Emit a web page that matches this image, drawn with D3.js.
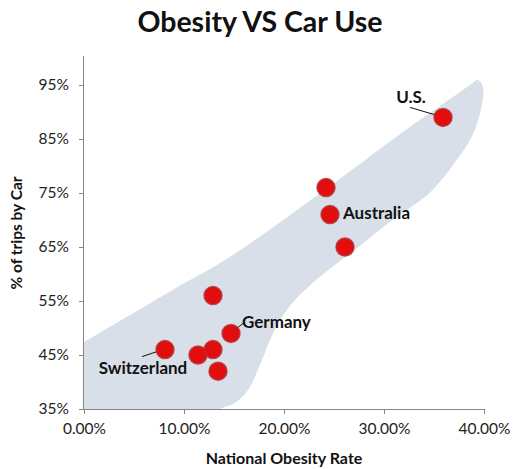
<!DOCTYPE html>
<html>
<head>
<meta charset="utf-8">
<script src="https://cdn.jsdelivr.net/npm/d3@7"></script>
<style>
  body { margin: 0; background: #fff; }
  text { font-family: Lato, "Open Sans", sans-serif; }
</style>
</head>
<body>
<svg id="chart" width="520" height="469"></svg>
<script>
// Data
const countries = ["U.S.", "", "Australia", "", "", "Germany", "Switzerland", "", "", ""];
const obesity   = [35.9, 24.2, 24.6, 26.1, 12.9, 14.7, 8.1, 11.4, 12.9, 13.4];
const carTrips  = [89.0, 76.0, 71.0, 65.0, 56.0, 49.0, 46.0, 45.0, 46.0, 42.0];
const xTicks = [0, 10, 20, 30, 40];
const yTicks = [35, 45, 55, 65, 75, 85, 95];
// decorative background band outline (x %, y %)
const bandX = [-4, 0, 8.9, 14.6, 24.3, 31.6, 36.6, 38.6, 39.4, 39.9, 39.8, 38.9, 37.1, 34.6, 30.9, 27.1, 23.6, 21.1, 19.6, 18.6, 17.6, 16.4, 15.1, 13.6, 11.0, 5, -4];
const bandY = [43.0, 47.4, 57.1, 63.2, 75.9, 85.9, 92.4, 95.0, 95.9, 94.6, 91.5, 85.9, 80.7, 75.1, 70.1, 64.5, 59.5, 55.2, 51.5, 47.8, 43.2, 38.5, 36.1, 35.0, 31.5, 29, 29];

const labelOffsets = { "U.S.": [-32, -21], "Australia": [13, -2], "Germany": [11, -12], "Switzerland": [-22, 18] };

const svg = d3.select("#chart");
const x = d3.scaleLinear().domain([0, 40]).range([84, 484]);
const y = d3.scaleLinear().domain([35, 100]).range([409, 58]);

// title
svg.append("text").attr("x", 260).attr("y", 32).attr("text-anchor", "middle")
  .attr("font-size", 28.5).attr("font-weight", "bold").attr("fill", "#111").text("Obesity VS Car Use");

// clip
svg.append("clipPath").attr("id", "plotclip").append("rect")
  .attr("x", x(0)).attr("y", y(100)).attr("width", x(40) - x(0) + 20).attr("height", y(35) - y(100));

const band = bandX.map((d, i) => [d, bandY[i]]);
svg.append("path").attr("clip-path", "url(#plotclip)")
  .attr("d", d3.line().x(d => x(d[0])).y(d => y(d[1])).curve(d3.curveCatmullRomClosed.alpha(0.5))(band))
  .attr("fill", "#d8dfe8");

// axes
const xAxis = svg.append("g").attr("transform", `translate(0,${y(35)})`)
  .call(d3.axisBottom(x).tickValues(xTicks).tickSize(5).tickPadding(9).tickFormat(d => d.toFixed(2) + "%"));
const yAxis = svg.append("g").attr("transform", `translate(${x(0)},0)`)
  .call(d3.axisLeft(y).tickValues(yTicks).tickSize(5).tickPadding(10).tickFormat(d => d + "%"));
[xAxis, yAxis].forEach(a => {
  a.select(".domain").attr("stroke", "#868686");
  a.selectAll(".tick line").attr("stroke", "#868686");
  a.selectAll(".tick text").attr("font-size", 15.5).attr("fill", "#222").attr("font-family", "Lato, sans-serif");
});
yAxis.select(".domain").attr("d", `M-0.5,${y(35)}V${y(100) - 2}`);
xAxis.select(".domain").attr("d", `M${x(0)},0.5H${x(40)}`);

// axis titles
svg.append("text").attr("x", 284).attr("y", 464).attr("text-anchor", "middle")
  .attr("font-size", 16).attr("font-weight", "bold").attr("fill", "#111").text("National Obesity Rate");
svg.append("text").attr("transform", "translate(22,233) rotate(-90)").attr("text-anchor", "middle")
  .attr("font-size", 15.5).attr("font-weight", "bold").attr("fill", "#111").text("% of trips by Car");

// leader lines
const data = obesity.map((d, i) => ({ name: countries[i], ox: d, oy: carTrips[i] }));
const labeled = data.filter(d => d.name);
const leaders = { "U.S.": [-33, -10, -6, -2], "Australia": [-5, -1, 8, -1], "Germany": [1, -1, 12, -10], "Switzerland": [-23, 7, -2, 0] };
svg.selectAll(".leader").data(labeled).join("line")
  .attr("x1", d => x(d.ox) + leaders[d.name][0]).attr("y1", d => y(d.oy) + leaders[d.name][1])
  .attr("x2", d => x(d.ox) + leaders[d.name][2]).attr("y2", d => y(d.oy) + leaders[d.name][3])
  .attr("stroke", "#111").attr("stroke-width", 1);

// points
svg.selectAll(".pt").data(data).join("circle")
  .attr("cx", d => x(d.ox)).attr("cy", d => y(d.oy)).attr("r", 9)
  .attr("fill", "#e20e0e").attr("stroke", "#b0353a").attr("stroke-width", 1.5).attr("stroke-opacity", 0.8);

// labels
svg.selectAll(".lbl").data(labeled).join("text")
  .attr("x", d => x(d.ox) + labelOffsets[d.name][0]).attr("y", d => y(d.oy) + labelOffsets[d.name][1])
  .attr("text-anchor", d => d.name === "Australia" || d.name === "Germany" ? "start" : "middle")
  .attr("dominant-baseline", "central")
  .attr("font-size", 17).attr("font-weight", "bold").attr("fill", "#111").text(d => d.name);
</script>
</body>
</html>
